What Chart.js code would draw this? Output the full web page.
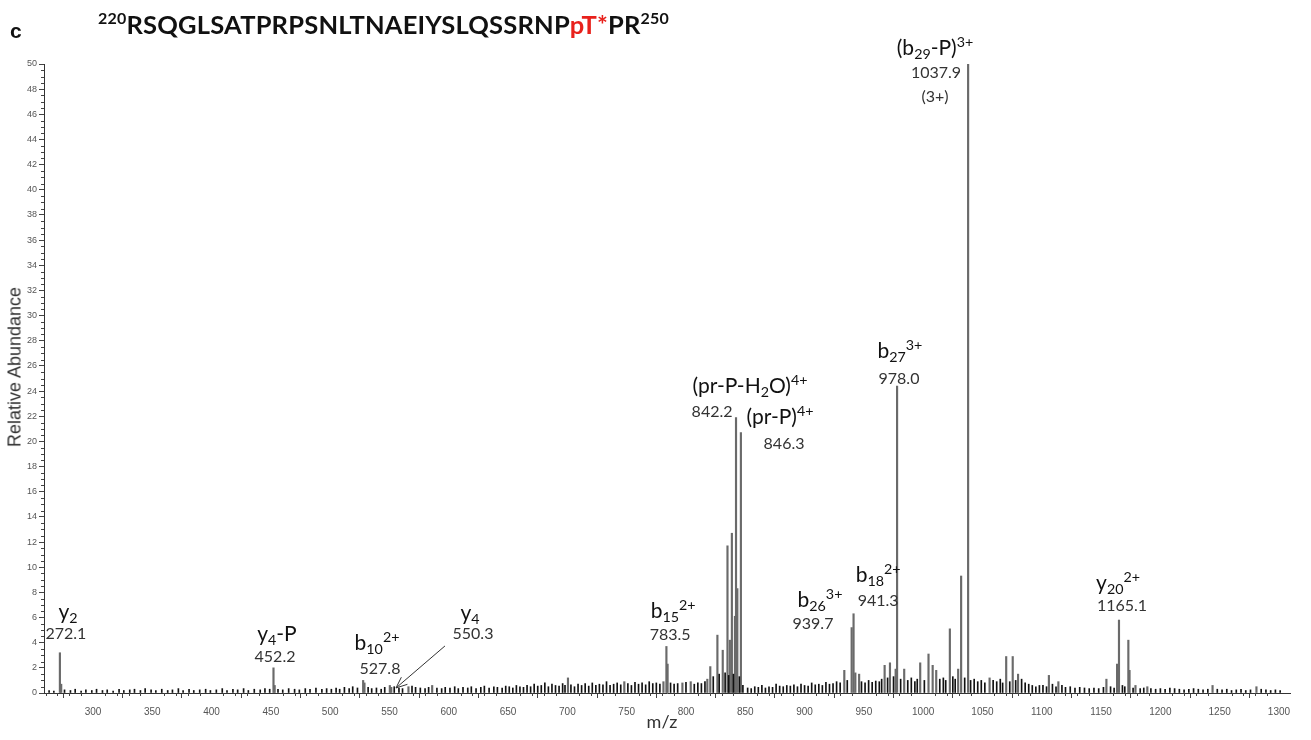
<!DOCTYPE html>
<html>
<head>
<meta charset="utf-8">
<script src="https://cdn.jsdelivr.net/npm/chart.js@4.4.1/dist/chart.umd.min.js"></script>
<style>
  html, body { margin: 0; padding: 0; background: #fff; }
  #wrap { position: relative; width: 1311px; height: 740px; overflow: hidden; font-family: 'Lato', 'Open Sans', sans-serif; }
  canvas { position: absolute; left: 0; top: 0; }
  .lbl { position: absolute; transform: translate(-50%, -50%); white-space: nowrap; line-height: 1; }
  .ion { font-size: 21px; color: #111; }
  .num { font-size: 16px; color: #333; }
  .lbl sub, .lbl sup { font-size: 0.68em; line-height: 0; position: relative; vertical-align: baseline; }
  .lbl sub { top: 0.3em; }
  .lbl sup { top: -0.55em; }
  #panel { position: absolute; left: 10px; top: 19px; font: bold 21px 'Liberation Sans', Arial, sans-serif; color: #111; }
  #seq { position: absolute; left: 98px; top: 9px; font: bold 25.5px 'Lato', sans-serif; color: #111; white-space: nowrap; letter-spacing: 0.2px; }
  #seq sup { font-size: 16px; position: relative; top: -10px; vertical-align: baseline; line-height: 0; }
  #seq .red { color: #e8211c; }
  #ytitle { position: absolute; left: 15px; top: 367px; transform: translate(-50%, -50%) rotate(-90deg); font: 18px 'Liberation Sans', Arial, sans-serif; color: #333; white-space: nowrap; }
  #xtitle { position: absolute; left: 662px; top: 721px; transform: translate(-50%, -50%); font-size: 18px; color: #333; }
</style>
</head>
<body>
<div id="wrap">
  <canvas id="ms" width="1311" height="740"></canvas>
  <div id="panel">c</div>
  <div id="seq"><sup>220</sup>RSQGLSATPRPSNLTNAEIYSLQSSRNP<span class="red">pT*</span>PR<sup>250</sup></div>
  <div id="ytitle">Relative Abundance</div>
  <div id="xtitle">m/z</div>
</div>
<script>
// axis ranges / ticks
const xMin = 258.7, xMax = 1309.3, xMinor = 10;
const xTicks = [300, 350, 400, 450, 500, 550, 600, 650, 700, 750, 800, 850, 900, 950, 1000, 1050, 1100, 1150, 1200, 1250, 1300];
const yMin = 0, yMax = 50, yStep = 2, yMinor = 0.5;

// labelled / visible fragment peaks [m/z, relative abundance]
const peaks = [
  [272.1, 3.2], [273.2, 0.7], [452.2, 2.0], [453.2, 0.6], [527.8, 1.0], [528.9, 0.8],
  [550.3, 0.6], [551.5, 0.45], [566, 0.5], [586, 0.6], [700.5, 1.2], [748, 0.9],
  [781, 0.9], [783.5, 3.7], [784.5, 2.3], [797, 0.8], [804, 0.9], [818, 1.1],
  [820.5, 2.1], [826.5, 4.6], [831, 3.4], [835, 11.7], [837, 4.2], [838.7, 12.7],
  [841.3, 6.1], [842.2, 21.9], [843.3, 8.3], [846.3, 20.7], [933.5, 1.8], [939.7, 5.2],
  [941.3, 6.3], [942.8, 1.6], [946, 1.5], [967.5, 2.2], [972, 2.4], [976.8, 1.9],
  [978.0, 24.4], [984, 1.9], [997.5, 2.4], [1004.5, 3.1], [1008, 2.2], [1011, 1.8],
  [1022.5, 5.1], [1029.5, 1.9], [1032, 9.3], [1037.9, 50], [1056, 1.2], [1070, 2.9],
  [1075.5, 2.9], [1080, 1.5], [1106, 1.4], [1114, 0.9], [1154.5, 1.1], [1163.5, 2.3],
  [1165.1, 5.8], [1173, 4.2], [1174, 1.8], [1179, 0.6], [1189, 0.5], [1244, 0.6], [1281, 0.5]
];

// baseline "grass" [m/z, relative abundance]
const grass = [
  [263,.2],[267,.15],[276,.25],[281,.2],[285,.3],[290,.15],[294,.25],[299,.2],[303,.3],[308,.2],
  [312,.25],[317,.15],[322,.3],[326,.2],[331,.25],[335,.3],[340,.2],[344,.35],[349,.25],[353,.2],
  [358,.3],[363,.2],[367,.25],[372,.35],[376,.2],[381,.3],[385,.2],[390,.25],[395,.3],[399,.2],
  [404,.25],[409,.35],[413,.2],[418,.3],[422,.25],[427,.35],[431,.2],[436,.3],[441,.25],[445,.35],
  [449,.3],[456,.3],[460,.25],[465,.35],[470,.3],[474,.25],[479,.35],[483,.3],[488,.4],[493,.3],[497,.35],
  [501,.3],[505,.4],[508,.3],[512,.45],[516,.35],[519,.5],[523,.4],[532,.45],[535,.35],[539,.4],
  [543,.3],[546,.45],[554,.5],[558,.4],[561,.35],[569,.55],[572,.45],[576,.4],[580,.35],[583,.45],
  [590,.4],[594,.35],[597,.45],[601,.4],[605,.5],[608,.35],[612,.45],[616,.4],[619,.5],[623,.35],
  [627,.45],[630,.55],[634,.4],[638,.5],[641,.45],[645,.4],[648,.55],
  [651,.5],[654,.4],[657,.6],[660,.5],[663,.45],[666,.6],[669,.5],[672,.7],[675,.55],[678,.6],
  [681,.8],[684,.5],[687,.7],[690,.6],[693,.55],[696,.75],[698,.6],[703,.65],[706,.5],[709,.7],
  [712,.6],[715,.75],[718,.55],[721,.8],[724,.6],[727,.7],[730,.65],[733,.9],[736,.6],[739,.7],
  [742,.8],[745,.65],[751,.75],[754,.6],[757,.85],[760,.7],[763,.8],[766,.65],[769,.9],[772,.75],
  [775,.8],[778,.7],[787,.8],[790,.7],[793,.75],[800,.85],[807,.7],[810,.8],[813,.75],[816,.9],
  [823,1.3],[828,1.5],[833,1.6],[836,1.4],[840,1.5],[845,1.3],[848,.6],
  [852,.4],[855,.35],[858,.5],[861,.45],[864,.6],[867,.4],[870,.5],[873,.45],[876,.7],[879,.55],
  [882,.5],[885,.6],[888,.55],[891,.65],[894,.5],[897,.7],[900,.6],[903,.55],[906,.8],[909,.65],
  [912,.7],[915,.6],[918,.85],[921,.7],[924,.75],[927,.9],[930,.8],[936,1.0],[948,.9],[951,.8],
  [954,1.0],[957,.85],[960,.95],[963,.9],[965,1.1],[970,1.2],[975,1.3],[981,1.1],[987,1.0],[990,1.2],
  [993,.9],[995,1.1],[1001,1.0],[1014,1.1],[1017,1.2],[1019,1.0],[1025,1.3],[1027,1.1],[1035,1.2],[1040,1.0],
  [1043,1.1],[1046,.9],[1049,1.0],[1052,.8],[1059,1.0],[1062,.9],[1065,1.1],[1067,.8],[1073,.9],[1078,1.0],
  [1083,1.1],[1086,.8],[1089,.7],[1092,.6],[1095,.5],[1098,.6],
  [1101,.6],[1104,.5],[1109,.7],[1112,.5],[1117,.6],[1120,.45],[1124,.5],[1128,.4],[1132,.45],[1136,.4],
  [1140,.35],[1144,.4],[1148,.35],[1152,.45],[1158,.5],[1161,.4],[1168,.6],[1170,.5],[1177,.4],[1183,.35],
  [1186,.4],[1192,.35],[1196,.3],[1200,.35],[1204,.3],[1208,.4],[1212,.35],[1216,.3],[1220,.25],[1224,.3],
  [1228,.35],[1232,.3],[1236,.25],[1240,.3],[1248,.3],[1252,.25],[1256,.3],[1260,.2],[1264,.25],[1268,.3],
  [1272,.2],[1276,.25],[1285,.3],[1289,.25],[1293,.2],[1297,.25],[1301,.2]
];

// annotations: html, css class, anchor m/z, anchor abundance
const labels = [
  ['y<sub>2</sub>', 'ion', 278.9, 6.6], ['272.1', 'num', 277.2, 4.77],
  ['y<sub>4</sub>-P', 'ion', 455.1, 4.85], ['452.2', 'num', 453.5, 2.94],
  ['b<sub>10</sub><sup>2+</sup>', 'ion', 539.5, 4.13], ['527.8', 'num', 542.0, 1.99],
  ['y<sub>4</sub>', 'ion', 617.9, 6.52], ['550.3', 'num', 620.4, 4.77],
  ['b<sub>15</sub><sup>2+</sup>', 'ion', 789.2, 6.68], ['783.5', 'num', 786.7, 4.69],
  ['(pr-P-H<sub>2</sub>O)<sup>4+</sup>', 'ion', 854.0, 24.56], ['842.2', 'num', 822.0, 22.42],
  ['(pr-P)<sup>4+</sup>', 'ion', 879.3, 22.1], ['846.3', 'num', 882.7, 19.87],
  ['b<sub>27</sub><sup>3+</sup>', 'ion', 980.4, 27.34], ['978.0', 'num', 979.6, 25.04],
  ['b<sub>26</sub><sup>3+</sup>', 'ion', 913.0, 7.55], ['939.7', 'num', 907.1, 5.56],
  ['b<sub>18</sub><sup>2+</sup>', 'ion', 962.0, 9.54], ['941.3', 'num', 962.0, 7.39],
  ['(b<sub>29</sub>-P)<sup>3+</sup>', 'ion', 1010.0, 51.43], ['1037.9', 'num', 1010.8, 49.36],
  ['(3+)', 'num', 1010.0, 47.46],
  ['y<sub>20</sub><sup>2+</sup>', 'ion', 1164.3, 8.9], ['1165.1', 'num', 1167.7, 7.0]
];

// arrow from y4 label down to its peak [m/z, abundance]
const arrowFrom = [596.8, 3.74], arrowTo = [555.5, 0.4];

const toXY = arr => arr.map(([x, y]) => ({ x, y }));

const extras = {
  id: 'extras',
  afterDraw(chart) {
    const { ctx, scales: { x, y }, chartArea: ca } = chart;
    ctx.save();
    ctx.strokeStyle = '#444';
    ctx.lineWidth = 1;
    // minor ticks
    ctx.beginPath();
    for (let v = Math.ceil(xMin / xMinor) * xMinor; v <= xMax; v += xMinor) {
      if (xTicks.includes(v)) continue;
      const px = Math.round(x.getPixelForValue(v)) + 0.5;
      ctx.moveTo(px, ca.bottom); ctx.lineTo(px, ca.bottom + 3);
    }
    for (let v = yMin; v <= yMax; v += yMinor) {
      if (v % yStep === 0) continue;
      const py = Math.round(y.getPixelForValue(v)) + 0.5;
      ctx.moveTo(ca.left, py); ctx.lineTo(ca.left - 3, py);
    }
    ctx.stroke();
    // arrow
    const x0 = x.getPixelForValue(arrowFrom[0]), y0 = y.getPixelForValue(arrowFrom[1]);
    const x1 = x.getPixelForValue(arrowTo[0]), y1 = y.getPixelForValue(arrowTo[1]);
    const a = Math.atan2(y1 - y0, x1 - x0);
    ctx.strokeStyle = '#333';
    ctx.beginPath();
    ctx.moveTo(x0, y0); ctx.lineTo(x1, y1);
    ctx.moveTo(x1 - 12 * Math.cos(a - 0.4), y1 - 12 * Math.sin(a - 0.4));
    ctx.lineTo(x1, y1);
    ctx.lineTo(x1 - 12 * Math.cos(a + 0.4), y1 - 12 * Math.sin(a + 0.4));
    ctx.stroke();
    ctx.restore();
  }
};

const chart = new Chart(document.getElementById('ms'), {
  type: 'bar',
  data: {
    datasets: [
      { label: 'baseline', data: toXY(grass), backgroundColor: '#111', barThickness: 1 },
      { label: 'peaks', data: toXY(peaks), backgroundColor: '#6a6a6a', barThickness: 1.5 }
    ]
  },
  options: {
    responsive: false,
    animation: false,
    events: [],
    layout: { padding: { left: 0, top: 64, right: 21, bottom: 0 } },
    plugins: { legend: { display: false }, tooltip: { enabled: false } },
    datasets: { bar: { grouped: false } },
    scales: {
      x: {
        type: 'linear', min: xMin, max: xMax, offset: false,
        afterBuildTicks: s => { s.ticks = xTicks.map(v => ({ value: v })); },
        afterFit: s => { s.height = 47; },
        border: { display: true, color: '#333', width: 1 },
        grid: { display: true, drawOnChartArea: false, drawTicks: true, tickLength: 5, color: '#444' },
        ticks: { maxRotation: 0, autoSkip: false, padding: 8, color: '#555', font: { family: 'Liberation Sans', size: 10 }, callback: v => String(v) }
      },
      y: {
        min: yMin, max: yMax,
        afterFit: s => { s.width = 44; },
        border: { display: true, color: '#333', width: 1 },
        grid: { display: true, drawOnChartArea: false, drawTicks: true, tickLength: 5, color: '#444' },
        ticks: { stepSize: yStep, autoSkip: false, padding: 2, color: '#555', font: { family: 'Liberation Sans', size: 9 }, callback: v => String(v) }
      }
    }
  },
  plugins: [extras]
});

// place peak annotations through the chart scales
const wrap = document.getElementById('wrap');
labels.forEach(([html, cls, mz, ab]) => {
  const el = document.createElement('div');
  el.className = 'lbl ' + cls;
  el.innerHTML = html;
  el.style.left = chart.scales.x.getPixelForValue(mz) + 'px';
  el.style.top = chart.scales.y.getPixelForValue(ab) + 'px';
  wrap.appendChild(el);
});
</script>
</body>
</html>
